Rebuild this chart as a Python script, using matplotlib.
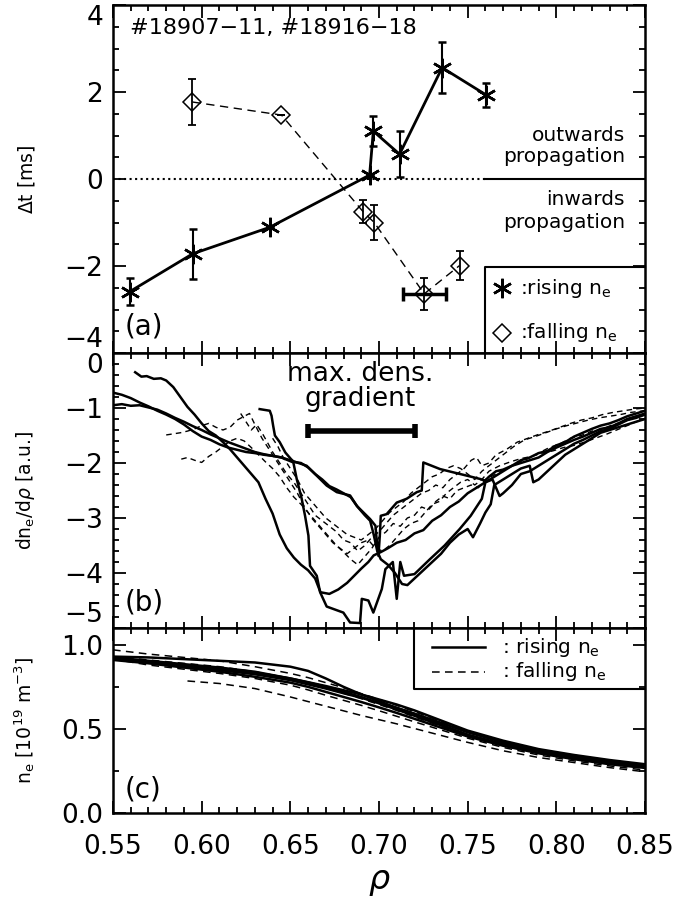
import numpy as np
import matplotlib
matplotlib.use("Agg")
import matplotlib.pyplot as plt
from matplotlib.ticker import MultipleLocator, FuncFormatter

plt.rcParams['font.family'] = ['DejaVu Sans']
plt.rcParams['mathtext.fontset'] = 'dejavusans'

# ---------------- panel (a) data ----------------
rise_rho = [0.5594, 0.5949, 0.6384, 0.6947, 0.6968, 0.7116, 0.7356, 0.7605]
rise_dt = [-2.59, -1.72, -1.11, 0.09, 1.10, 0.57, 2.56, 1.93]
rise_err = [0.31, 0.57, 0.0, 0.0, 0.35, 0.53, 0.58, 0.28]

fall_rho = [0.5948, 0.6450, 0.6910, 0.6973, 0.7255, 0.7454]
fall_dt = [1.77, 1.47, -0.75, -1.00, -2.64, -1.99]
fall_err = [0.52, 0.0, 0.27, 0.41, 0.36, 0.34]
fall_xerr_rho = [0.7255]
fall_xerr_dt = [-2.64]
fall_xerr = [0.012]

# ---------------- panel (b) data ----------------
S1_rho = [0.5625, 0.566, 0.569, 0.573, 0.577, 0.580, 0.584, 0.588, 0.592, 0.596, 0.600, 0.604, 0.608, 0.612,
          0.616, 0.620, 0.624, 0.628, 0.632, 0.636, 0.640, 0.644, 0.648, 0.652, 0.656, 0.660, 0.664, 0.667,
          0.672, 0.677, 0.682, 0.686, 0.690, 0.694, 0.697, 0.701, 0.705, 0.710, 0.715, 0.720, 0.725, 0.730,
          0.735, 0.740, 0.745, 0.750, 0.755, 0.760, 0.765, 0.770, 0.775, 0.780, 0.785, 0.790, 0.795, 0.800,
          0.805, 0.810, 0.815, 0.820, 0.825, 0.830, 0.835, 0.840, 0.845, 0.850]
S1_val = [-0.35, -0.43, -0.42, -0.47, -0.46, -0.50, -0.62, -0.80, -0.98, -1.12, -1.28, -1.42, -1.50, -1.62,
          -1.75, -1.90, -2.05, -2.20, -2.35, -2.65, -2.92, -3.30, -3.55, -3.72, -3.85, -3.95, -4.10, -4.35,
          -4.38, -4.30, -4.18, -4.05, -3.92, -3.80, -3.68, -3.62, -3.55, -3.45, -3.40, -3.28, -3.22, -3.05,
          -2.95, -2.80, -2.70, -2.55, -2.45, -2.35, -2.25, -2.15, -2.05, -2.00, -1.95, -1.90, -1.80, -1.72,
          -1.65, -1.58, -1.52, -1.45, -1.38, -1.35, -1.28, -1.20, -1.15, -1.10]

S2_rho = [0.550, 0.555, 0.560, 0.565, 0.570, 0.575, 0.580, 0.585, 0.590, 0.595, 0.600, 0.605, 0.610, 0.615,
          0.620, 0.625, 0.630, 0.635, 0.640, 0.645, 0.650, 0.6592, 0.6705, 0.6762, 0.6837, 0.6875, 0.695,
          0.698, 0.6988, 0.6997, 0.7005, 0.701, 0.7043, 0.710, 0.7156, 0.7213, 0.7241, 0.725, 0.7344,
          0.7419, 0.7495, 0.757, 0.7598, 0.762, 0.766, 0.770, 0.775, 0.780, 0.785, 0.790, 0.795, 0.800,
          0.805, 0.810, 0.815, 0.820, 0.825, 0.830, 0.835, 0.840, 0.845, 0.850]
S2_val = [-0.72, -0.76, -0.82, -0.90, -0.97, -1.05, -1.12, -1.20, -1.30, -1.42, -1.52, -1.58, -1.66, -1.72,
          -1.76, -1.80, -1.82, -1.85, -1.87, -1.90, -1.95, -2.05, -2.41, -2.53, -2.59, -2.78, -3.02,
          -3.14, -3.44, -3.69, -3.30, -2.96, -2.93, -2.72, -2.65, -2.53, -2.50, -1.99, -2.11,
          -2.17, -2.23, -2.29, -2.32, -2.25, -2.15, -2.12, -2.05, -1.95, -1.90, -1.82, -1.78, -1.68,
          -1.62, -1.52, -1.45, -1.38, -1.32, -1.28, -1.22, -1.15, -1.10, -1.05]

S3_rho = [0.550, 0.555, 0.560, 0.565, 0.570, 0.575, 0.580, 0.585, 0.590, 0.595, 0.600, 0.605, 0.610, 0.615,
          0.620, 0.625, 0.630, 0.635, 0.640, 0.645, 0.6517, 0.6536, 0.6564, 0.6583, 0.6602, 0.6611, 0.6649,
          0.6668, 0.6705, 0.6799, 0.6837, 0.6893, 0.6903, 0.6940, 0.6968, 0.7016, 0.7036, 0.7078, 0.7100,
          0.7120, 0.7141, 0.7200, 0.7287, 0.7370, 0.7455, 0.7517, 0.7580, 0.7600, 0.764, 0.768, 0.770,
          0.775, 0.780, 0.785, 0.790, 0.795, 0.800, 0.805, 0.810, 0.815, 0.820, 0.825, 0.830, 0.835, 0.840,
          0.845, 0.850]
S3_val = [-0.95, -0.93, -0.96, -0.95, -0.99, -1.03, -1.10, -1.18, -1.25, -1.33, -1.40, -1.48, -1.55, -1.62,
          -1.68, -1.74, -1.80, -1.84, -1.87, -1.90, -1.99, -2.29, -2.65, -2.96, -3.32, -3.87, -4.05,
          -4.35, -4.61, -4.72, -4.90, -4.91, -4.47, -4.50, -4.72, -4.29, -3.93, -3.80, -4.47,
          -3.80, -4.05, -4.02, -3.75, -3.50, -3.20, -2.96, -2.65, -2.35, -2.30, -2.60, -2.55,
          -2.40, -2.20, -2.15, -2.05, -1.95, -1.85, -1.75, -1.65, -1.58, -1.50, -1.42, -1.38, -1.30, -1.22,
          -1.18, -1.12]

S4_rho = [0.6327, 0.6384, 0.6394, 0.6403, 0.6413, 0.644, 0.6472, 0.6504, 0.652, 0.656, 0.660, 0.664, 0.668,
          0.672, 0.676, 0.680, 0.684, 0.688, 0.692, 0.695, 0.697, 0.699, 0.701, 0.705, 0.709, 0.713, 0.716,
          0.720, 0.725, 0.730, 0.735, 0.740, 0.745, 0.750, 0.753, 0.757, 0.760, 0.763, 0.765, 0.770, 0.775,
          0.780, 0.785, 0.787, 0.790, 0.795, 0.800, 0.805, 0.810, 0.815, 0.820, 0.825, 0.830, 0.835, 0.840,
          0.845, 0.850]
S4_val = [-1.02, -1.05, -1.14, -1.32, -1.50, -1.62, -1.81, -1.93, -1.98, -2.00, -2.08, -2.20, -2.30,
          -2.42, -2.48, -2.55, -2.62, -2.80, -2.95, -3.05, -3.30, -3.60, -3.75, -3.85, -4.00, -4.20, -4.22,
          -4.10, -3.95, -3.80, -3.65, -3.45, -3.30, -3.20, -3.35, -3.10, -2.90, -2.75, -2.40, -2.30, -2.20,
          -2.10, -2.05, -2.35, -2.30, -2.15, -2.00, -1.85, -1.75, -1.65, -1.55, -1.45, -1.40, -1.35, -1.30,
          -1.25, -1.20]

D1_rho = [0.580, 0.584, 0.588, 0.592, 0.596, 0.600, 0.604, 0.608, 0.612, 0.616, 0.620, 0.624, 0.627, 0.630,
          0.634, 0.638, 0.642, 0.646, 0.650, 0.654, 0.658, 0.662, 0.666, 0.670, 0.674, 0.678, 0.682, 0.686,
          0.690, 0.694, 0.698, 0.702, 0.706, 0.710, 0.714, 0.718, 0.722, 0.726, 0.730, 0.734, 0.738, 0.742,
          0.746, 0.750, 0.754, 0.758, 0.762, 0.768, 0.774, 0.780, 0.786, 0.792, 0.798, 0.804, 0.810, 0.816,
          0.822, 0.828, 0.834, 0.840, 0.845, 0.850]
D1_val = [-1.49, -1.47, -1.45, -1.42, -1.38, -1.32, -1.28, -1.35, -1.40, -1.35, -1.22, -1.15, -1.10, -1.30,
          -1.55, -1.75, -1.95, -2.15, -2.35, -2.55, -2.80, -3.00, -3.15, -3.30, -3.45, -3.55, -3.65, -3.55,
          -3.45, -3.40, -3.55, -3.60, -3.50, -3.35, -3.20, -3.10, -3.05, -2.90, -2.75, -2.70, -2.55, -2.45,
          -2.35, -2.30, -2.40, -2.30, -2.15, -2.05, -1.98, -1.92, -1.88, -1.82, -1.78, -1.72, -1.68, -1.62,
          -1.55, -1.48, -1.40, -1.32, -1.25, -1.20]

D2_rho = [0.5885, 0.592, 0.596, 0.600, 0.604, 0.608, 0.612, 0.616, 0.620, 0.624, 0.628, 0.632, 0.636, 0.640,
          0.644, 0.648, 0.652, 0.656, 0.660, 0.664, 0.668, 0.672, 0.676, 0.680, 0.684, 0.688, 0.692, 0.696,
          0.700, 0.704, 0.708, 0.712, 0.716, 0.720, 0.724, 0.728, 0.732, 0.736, 0.740, 0.744, 0.748, 0.752,
          0.756, 0.760, 0.766, 0.772, 0.778, 0.784, 0.790, 0.796, 0.802, 0.808, 0.814, 0.820, 0.826, 0.832,
          0.838, 0.844, 0.850]
D2_val = [-1.93, -1.90, -1.95, -1.99, -1.88, -1.80, -1.70, -1.60, -1.55, -1.60, -1.72, -1.85, -1.98, -2.10,
          -2.25, -2.45, -2.62, -2.75, -2.90, -3.05, -3.20, -3.35, -3.50, -3.62, -3.75, -3.85, -3.70, -3.55,
          -3.35, -3.25, -3.10, -3.15, -3.00, -2.95, -2.80, -2.85, -2.70, -2.60, -2.65, -2.50, -2.45, -2.40,
          -2.45, -2.30, -2.20, -2.10, -2.00, -1.92, -1.82, -1.72, -1.65, -1.55, -1.50, -1.42, -1.38, -1.30,
          -1.25, -1.18, -1.12]

D3_rho = [0.622, 0.625, 0.628, 0.631, 0.634, 0.637, 0.640, 0.644, 0.648, 0.652, 0.656, 0.660, 0.664, 0.668,
          0.672, 0.676, 0.680, 0.684, 0.688, 0.692, 0.696, 0.700, 0.704, 0.708, 0.712, 0.716, 0.720, 0.724,
          0.728, 0.732, 0.736, 0.740, 0.744, 0.748, 0.752, 0.755, 0.758, 0.762, 0.766, 0.772, 0.778, 0.784,
          0.790, 0.796, 0.802, 0.808, 0.814, 0.820, 0.826, 0.832, 0.838, 0.844, 0.850]
D3_val = [-1.10, -1.25, -1.40, -1.30, -1.45, -1.62, -1.80, -2.00, -2.20, -2.35, -2.55, -2.75, -2.95, -3.05,
          -3.15, -3.25, -3.40, -3.45, -3.60, -3.50, -3.35, -3.25, -3.10, -2.95, -2.85, -2.75, -2.65, -2.55,
          -2.50, -2.40, -2.45, -2.30, -2.20, -2.10, -1.95, -1.90, -2.05, -2.00, -1.85, -1.75, -1.62, -1.55,
          -1.48, -1.42, -1.35, -1.28, -1.22, -1.18, -1.12, -1.08, -1.05, -1.02, -1.00]

D4_rho = [0.640, 0.643, 0.646, 0.650, 0.654, 0.658, 0.662, 0.666, 0.670, 0.674, 0.678, 0.682, 0.686, 0.690,
          0.694, 0.698, 0.702, 0.706, 0.710, 0.714, 0.718, 0.722, 0.726, 0.730, 0.734, 0.738, 0.742, 0.746,
          0.750, 0.754, 0.758, 0.764, 0.770, 0.776, 0.782, 0.788, 0.794, 0.800, 0.806, 0.812, 0.818, 0.824,
          0.830, 0.836, 0.842, 0.850]
D4_val = [-1.55, -1.70, -1.90, -2.10, -2.30, -2.55, -2.70, -2.85, -3.00, -3.10, -3.20, -3.30, -3.35, -3.40,
          -3.30, -3.20, -3.05, -2.90, -2.80, -2.70, -2.55, -2.45, -2.35, -2.25, -2.20, -2.10, -2.05, -2.10,
          -2.20, -2.30, -2.15, -2.00, -1.85, -1.70, -1.58, -1.52, -1.45, -1.38, -1.32, -1.27, -1.22, -1.18,
          -1.15, -1.12, -1.08, -1.05]

grad_center = 0.690
grad_half = 0.0303
grad_level = -1.42

# ---------------- panel (c) data ----------------
ne_rho = [0.55, 0.57, 0.59, 0.61, 0.63, 0.65, 0.66, 0.67, 0.68, 0.69, 0.70, 0.71, 0.72, 0.73, 0.75, 0.77,
          0.79, 0.81, 0.83, 0.85]
ne_rise = [
    [0.930, 0.925, 0.915, 0.905, 0.895, 0.870, 0.845, 0.800, 0.750, 0.705, 0.665, 0.625, 0.590, 0.545, 0.465,
     0.405, 0.360, 0.330, 0.305, 0.285],
    [0.925, 0.905, 0.885, 0.865, 0.840, 0.800, 0.778, 0.755, 0.730, 0.705, 0.675, 0.645, 0.610, 0.570, 0.490,
     0.430, 0.380, 0.345, 0.315, 0.290],
    [0.915, 0.895, 0.875, 0.850, 0.825, 0.790, 0.765, 0.740, 0.712, 0.685, 0.655, 0.625, 0.590, 0.555, 0.480,
     0.420, 0.375, 0.340, 0.310, 0.282],
    [0.910, 0.890, 0.865, 0.840, 0.810, 0.775, 0.750, 0.720, 0.690, 0.660, 0.628, 0.595, 0.560, 0.525, 0.455,
     0.400, 0.355, 0.320, 0.290, 0.268],
    [0.920, 0.900, 0.880, 0.858, 0.835, 0.800, 0.776, 0.750, 0.720, 0.690, 0.652, 0.615, 0.578, 0.540, 0.465,
     0.410, 0.365, 0.330, 0.300, 0.275],
]
ne_fall = [
    [0.970, 0.945, 0.925, 0.905, 0.870, 0.830, 0.805, 0.775, 0.745, 0.710, 0.675, 0.640, 0.602, 0.565, 0.485,
     0.425, 0.375, 0.335, 0.300, 0.275],
    [0.915, 0.880, 0.855, 0.830, 0.800, 0.760, 0.732, 0.700, 0.670, 0.640, 0.608, 0.575, 0.542, 0.510, 0.445,
     0.390, 0.345, 0.310, 0.280, 0.255],
    [0.930, 0.910, 0.890, 0.870, 0.840, 0.800, 0.775, 0.745, 0.712, 0.680, 0.645, 0.610, 0.572, 0.535, 0.460,
     0.405, 0.360, 0.325, 0.295, 0.265],
]
ne_fall_low_rho = [0.592, 0.61, 0.63, 0.65, 0.67, 0.69, 0.71, 0.73, 0.75, 0.77, 0.79, 0.81, 0.83, 0.85]
ne_fall_low = [0.785, 0.770, 0.740, 0.690, 0.635, 0.580, 0.530, 0.475, 0.420, 0.370, 0.330, 0.300, 0.270, 0.245]

# ---------------- figure ----------------
fig = plt.figure(figsize=(6.75, 8.99), dpi=100)
L, W = 113 / 675, 532 / 675
axa = fig.add_axes([L, 1 - 353 / 899, W, 348 / 899])
axb = fig.add_axes([L, 1 - 628 / 899, W, 275 / 899])
axc = fig.add_axes([L, 1 - 813 / 899, W, 185 / 899])


def minus_int(v, pos):
    return ('%d' % round(v)).replace('-', '\u2212')


def minus_1f(v, pos):
    return ('%.1f' % v).replace('-', '\u2212')


TS = 19
for ax in (axa, axb, axc):
    ax.set_xlim(0.55, 0.85)
    ax.xaxis.set_major_locator(MultipleLocator(0.05))
    ax.xaxis.set_minor_locator(MultipleLocator(0.01))
    ax.tick_params(which='both', direction='in', top=True, right=True, width=1.3, labelsize=TS)
    ax.tick_params(which='major', length=9, pad=7)
    ax.tick_params(which='minor', length=4.5)
    ax.tick_params(axis='x', which='major', pad=15)
    for s in ax.spines.values():
        s.set_linewidth(1.8)
axa.tick_params(labelbottom=False)
axb.tick_params(labelbottom=False)

# ---- (a)
axa.set_ylim(-4, 4)
axa.yaxis.set_major_locator(MultipleLocator(2))
axa.yaxis.set_minor_locator(MultipleLocator(0.5))
axa.yaxis.set_major_formatter(FuncFormatter(minus_int))
axa.plot([0.55, 0.7597], [0, 0], ls=':', color='black', lw=1.5)
axa.plot([0.7597, 0.85], [0, 0], ls='-', color='black', lw=1.5)

astr = (6, 2, 0)
axa.errorbar(rise_rho, rise_dt, yerr=rise_err, fmt='-', color='black', lw=2, marker=astr, ms=14, mew=1.8,
             ecolor='black', elinewidth=1.5, capsize=3, capthick=1.5)
axa.plot(fall_rho, fall_dt, color='black', lw=1, ls=(0, (6, 4)))
axa.errorbar(fall_rho, fall_dt, yerr=fall_err, fmt='none', ecolor='black', elinewidth=1.3, capsize=3, capthick=1.3)
axa.plot(fall_rho, fall_dt, ls='none', marker='D', ms=9, mfc='none', mec='black', mew=1.1)
axa.errorbar(fall_xerr_rho, fall_xerr_dt, xerr=fall_xerr, fmt='none', ecolor='black', elinewidth=2.5,
             capsize=5, capthick=2.5)

axa.text(0.5596, 3.47, '#18907\u221211, #18916\u221218', fontsize=16, va='center', ha='left')
axa.text(0.8387, 1.01, 'outwards', fontsize=14.5, ha='right', va='center')
axa.text(0.8387, 0.51, 'propagation', fontsize=14.5, ha='right', va='center')
axa.text(0.8387, -0.48, 'inwards', fontsize=14.5, ha='right', va='center')
axa.text(0.8387, -0.99, 'propagation', fontsize=14.5, ha='right', va='center')
axa.text(0.5565, -3.38, '(a)', fontsize=20, ha='left', va='center')
# legend box (a)
axa.plot([0.7597, 0.7597, 0.85], [-4, -2.02, -2.02], color='black', lw=1.5, clip_on=False)
axa.plot([0.7692], [-2.51], ls='none', marker=astr, ms=14, mew=1.8, color='black')
axa.text(0.7795, -2.51, ':rising n$_\\mathregular{e}$', fontsize=14.5, va='center', ha='left')
axa.plot([0.7692], [-3.54], ls='none', marker='D', ms=9, mfc='none', mec='black', mew=1.1)
axa.text(0.7795, -3.54, ':falling n$_\\mathregular{e}$', fontsize=14.5, va='center', ha='left')
axa.set_ylabel(r'$\Delta$t [ms]', fontsize=13.5)

# ---- (b)
axb.set_ylim(-5, 0)
axb.yaxis.set_major_locator(MultipleLocator(1))
axb.yaxis.set_minor_locator(MultipleLocator(0.2))
axb.yaxis.set_major_formatter(FuncFormatter(minus_int))
for r, v in [(S1_rho, S1_val), (S2_rho, S2_val), (S3_rho, S3_val), (S4_rho, S4_val)]:
    axb.plot(r, v, color='black', lw=1.8)
for r, v in [(D1_rho, D1_val), (D2_rho, D2_val), (D3_rho, D3_val), (D4_rho, D4_val)]:
    axb.plot(r, v, color='black', lw=1.0, ls=(0, (4, 3)))
axb.errorbar([grad_center], [grad_level], xerr=[grad_half], fmt='none', ecolor='black', elinewidth=4,
             capsize=5, capthick=4)
axb.text(0.6895, -0.38, 'max. dens.', fontsize=19, ha='center', va='center')
axb.text(0.6895, -0.84, 'gradient', fontsize=19, ha='center', va='center')
axb.text(0.5565, -4.53, '(b)', fontsize=20, ha='left', va='center')
axb.set_ylabel(r'dn$_\mathregular{e}$/d$\rho$ [a.u.]', fontsize=13.5)

# ---- (c)
axc.set_ylim(0, 1.1)
axc.yaxis.set_major_locator(MultipleLocator(0.5))
axc.yaxis.set_minor_locator(MultipleLocator(0.25))
axc.yaxis.set_major_formatter(FuncFormatter(minus_1f))
for v in ne_rise:
    axc.plot(ne_rho, v, color='black', lw=1.8)
for v in ne_fall:
    axc.plot(ne_rho, v, color='black', lw=1.1, ls=(0, (5, 3.5)))
axc.plot(ne_fall_low_rho, ne_fall_low, color='black', lw=1.1, ls=(0, (5, 3.5)))
axc.plot([0.72, 0.72, 0.85], [1.1, 0.738, 0.738], color='black', lw=1.5)
axc.plot([0.7298, 0.760], [0.986, 0.986], color='black', lw=1.8)
axc.plot([0.7298, 0.760], [0.841, 0.841], color='black', lw=1.1, ls=(0, (5, 3.5)))
axc.text(0.7695, 0.986, ': rising n$_\\mathregular{e}$', fontsize=14.5, va='center', ha='left')
axc.text(0.7695, 0.841, ': falling n$_\\mathregular{e}$', fontsize=14.5, va='center', ha='left')
axc.text(0.5565, 0.137, '(c)', fontsize=20, ha='left', va='center')
axc.set_ylabel(r'n$_\mathregular{e}$ [10$^{19}$ m$^{-3}$]', fontsize=13.5)
axc.set_xlabel(r'$\rho$', fontsize=24)
axc.xaxis.set_label_coords(0.5, -0.28)

for ax in (axa, axb, axc):
    ax.yaxis.set_label_coords(-0.142, 0.5)

# nudge labels at the panel joins, as in the reference
fig.canvas.draw()
for lab in axa.get_yticklabels():
    if lab.get_text() == '4':
        lab.set_verticalalignment('top')
    elif lab.get_text() == '\u22124':
        lab.set_verticalalignment('bottom')
for lab in axb.get_yticklabels():
    if lab.get_text() == '0':
        lab.set_verticalalignment('top')
    elif lab.get_text() == '\u22125':
        lab.set_verticalalignment('bottom')

fig.savefig('out.png', dpi=100)
